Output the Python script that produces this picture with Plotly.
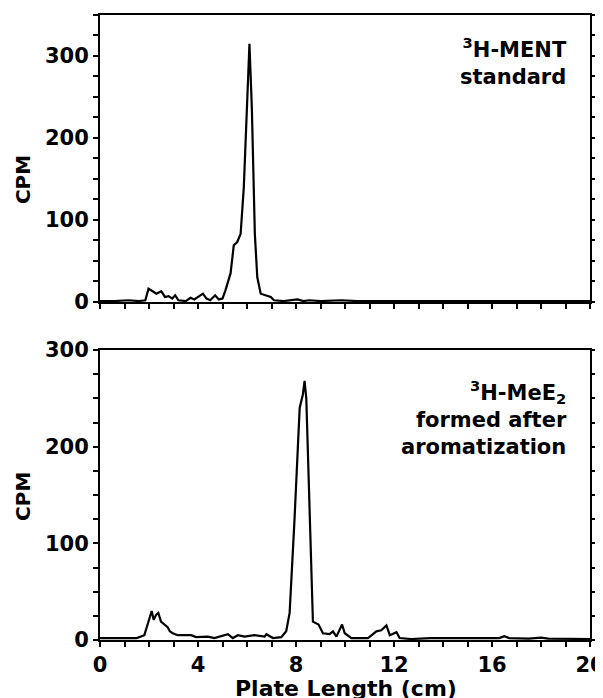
import plotly.graph_objects as go
from plotly.subplots import make_subplots

# Top panel: 3H-MENT standard
ment_x = [0.0, 0.6, 1.15, 1.6, 1.85, 1.98, 2.15, 2.3, 2.5, 2.65, 2.8, 2.95, 3.07, 3.2, 3.5, 3.7, 3.85,
          4.0, 4.2, 4.35, 4.5, 4.7, 4.85, 5.0, 5.12, 5.33, 5.46, 5.6, 5.74, 5.87, 5.98, 6.05, 6.1,
          6.15, 6.2, 6.32, 6.42, 6.56, 6.76, 6.97, 7.1, 7.5, 8.06, 8.3, 8.54, 9.0, 9.84, 10.5, 12.0,
          14.0, 16.0, 18.0, 20.0]
ment_y = [1, 1, 2, 1, 2, 16, 13, 10, 13, 6, 7, 4, 8, 2, 1, 5, 3,
          6, 10, 4, 2, 8, 3, 4, 14, 35, 69, 73, 83, 140, 234, 271, 315,
          275, 234, 83, 30, 10, 8, 6, 2, 1, 3, 1, 2, 1, 2, 1, 1,
          1, 1, 1, 1]

# Bottom panel: 3H-MeE2 formed after aromatization
mee2_x = [0.0, 0.8, 1.5, 1.81, 2.02, 2.11, 2.19, 2.29, 2.38, 2.49, 2.63, 2.77, 2.85, 2.97, 3.17,
          3.72, 3.92, 4.4, 4.67, 5.22, 5.42, 5.63, 5.9, 6.3, 6.72, 6.79, 7.06, 7.4, 7.6, 7.74,
          7.94, 8.15, 8.28, 8.35, 8.42, 8.56, 8.69, 8.92, 9.1, 9.37, 9.51, 9.65, 9.88, 9.99,
          10.26, 10.94, 11.28, 11.48, 11.69, 11.83, 12.1, 12.23, 12.7, 13.5, 14.5, 15.5, 16.3,
          16.5, 16.7, 17.5, 18.0, 18.3, 19.2, 20.0]
mee2_y = [2, 2, 2, 5, 21, 30, 21, 26, 28, 19, 16, 13, 9, 7, 5,
          5, 3, 3.5, 2, 6, 2, 5, 3.5, 5, 3.5, 6, 2, 3, 9, 28,
          125, 240, 254, 268, 250, 125, 19, 16, 7, 6, 9, 3.5, 16, 7,
          2, 2, 9, 10, 15, 5, 8, 2, 1, 2, 2, 1.5, 2,
          4, 2, 1.5, 2.5, 1.5, 1, 1]

x_tickvals = list(range(0, 21))
x_ticktext = [str(v) if v % 4 == 0 else "" for v in x_tickvals]
top_yvals = list(range(0, 351, 25))
top_ytext = [str(v) if v % 100 == 0 else "" for v in top_yvals]
bot_yvals = list(range(0, 301, 25))
bot_ytext = [str(v) if v % 100 == 0 else "" for v in bot_yvals]

fig = make_subplots(rows=2, cols=1, shared_xaxes=False, vertical_spacing=0.077)

line = dict(color="black", width=2.2)
fig.add_trace(go.Scatter(x=ment_x, y=ment_y, mode="lines", line=line, showlegend=False), row=1, col=1)
fig.add_trace(go.Scatter(x=mee2_x, y=mee2_y, mode="lines", line=line, showlegend=False), row=2, col=1)

font = dict(family="DejaVu Sans", size=21, color="black", weight="bold")

common_x = dict(range=[0, 20], showgrid=False, zeroline=False, showline=True, linecolor="black",
                linewidth=2, mirror=True, ticks="outside", ticklen=5, tickwidth=2, tickcolor="black",
                tickvals=x_tickvals, tickfont=font, automargin=False, ticklabeloverflow="allow")
fig.update_xaxes(**common_x)
fig.update_xaxes(ticktext=["" for _ in x_tickvals], row=1, col=1)
fig.update_xaxes(ticktext=x_ticktext, row=2, col=1)

common_y = dict(showgrid=False, zeroline=False, showline=True, linecolor="black", linewidth=2,
                mirror="ticks", ticks="outside", ticklen=5, tickwidth=1.5, tickcolor="black",
                tickfont=font, automargin=False)
fig.update_yaxes(**common_y)
fig.update_yaxes(range=[0, 350], tickvals=top_yvals, ticktext=top_ytext, row=1, col=1)
fig.update_yaxes(range=[0, 300], tickvals=bot_yvals, ticktext=bot_ytext, row=2, col=1)

# page body has an 8px margin, so the figure is drawn 8px smaller and offset
fig.update_layout(
    width=595, height=690,
    margin=dict(l=92, r=13, t=7, b=58, autoexpand=False),
    paper_bgcolor="white", plot_bgcolor="white",
    xaxis=dict(domain=[0, 1]),
    yaxis=dict(domain=[0.541, 1.0]),
    yaxis2=dict(domain=[0.0, 0.464]),
)

tfont = dict(family="DejaVu Sans", size=20, color="black", weight="bold")
fig.add_annotation(xref="paper", yref="paper", x=-0.157, y=0.736, text="CPM", textangle=-90,
                   showarrow=False, font=tfont, xanchor="center", yanchor="middle")
fig.add_annotation(xref="paper", yref="paper", x=-0.157, y=0.229, text="CPM", textangle=-90,
                   showarrow=False, font=tfont, xanchor="center", yanchor="middle")
fig.add_annotation(xref="paper", yref="paper", x=0.502, y=-0.077, text="Plate Length (cm)",
                   showarrow=False, font=dict(family="DejaVu Sans", size=22, color="black", weight="bold"),
                   xanchor="center", yanchor="middle")

afont = dict(family="DejaVu Sans", size=21, color="black", weight="bold")
fig.add_annotation(xref="x domain", yref="y domain", x=0.957, y=0.94, xanchor="right", yanchor="top",
                   align="right", showarrow=False, font=afont,
                   text="<sup>3</sup>H-MENT<br>standard")
fig.add_annotation(xref="x2 domain", yref="y2 domain", x=0.957, y=0.915, xanchor="right", yanchor="top",
                   align="right", showarrow=False, font=afont,
                   text="<sup>3</sup>H-MeE<sub>2</sub><br>formed after<br>aromatization")

fig.write_html("out.html")
